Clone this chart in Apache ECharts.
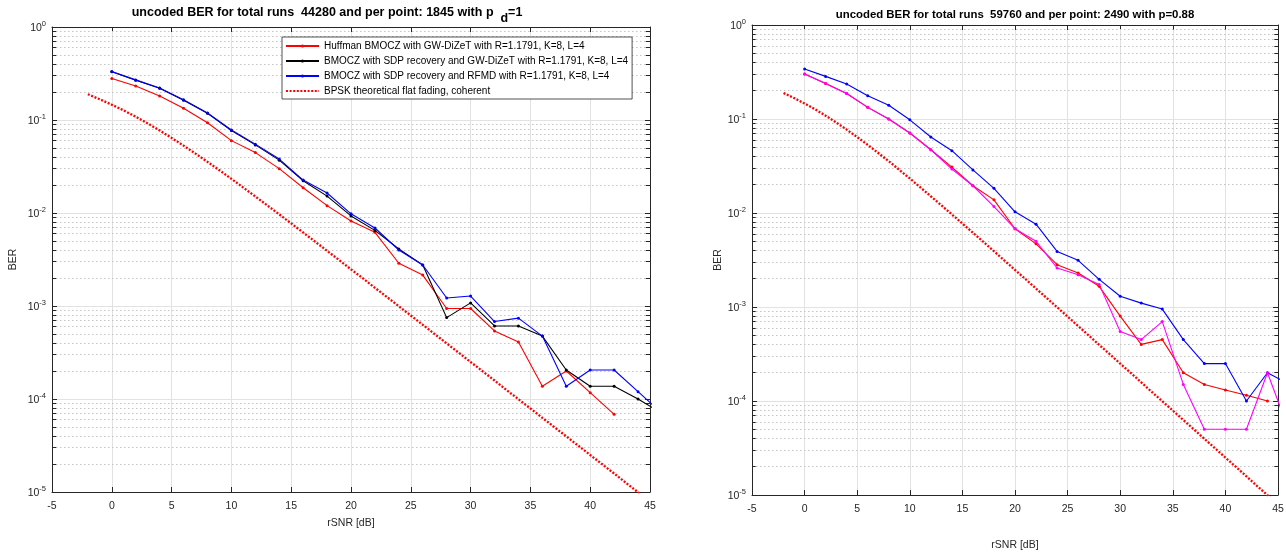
<!DOCTYPE html>
<html><head><meta charset="utf-8">
<script src="https://cdn.jsdelivr.net/npm/echarts@6/dist/echarts.min.js"></script>
<style>html,body{margin:0;padding:0;background:#fff}#c{width:1286px;height:552px}</style>
</head><body><div id="c"></div>
<script>
// ---- data ----
const snr = [0,2,4,6,8,10,12,14,16,18,20,22,24,26,28,30,32,34,36,38,40,42,44,46];
// left panel (p_d = 1)
const leftHuffman = [0.28,0.232,0.181,0.134,0.0935,0.06,0.0446,0.030,0.0187,0.012,0.0082,0.0062,0.00288,0.00215,0.00094,0.00094,0.00054,0.00041,0.000137,0.0002,0.000117,0.0000684,null,null];
const leftSdpGw   = [0.33,0.268,0.22,0.163,0.118,0.077,0.054,0.037,0.0222,0.0152,0.0093,0.0065,0.0041,0.00276,0.00075,0.00108,0.00061,0.00061,0.000475,0.000205,0.000137,0.000137,0.0001,0.00007];
const leftSdpRfmd = [0.333,0.27,0.221,0.165,0.119,0.078,0.055,0.038,0.0226,0.0164,0.0098,0.0069,0.0040,0.00276,0.00122,0.00128,0.00068,0.00074,0.000475,0.000137,0.000205,0.000205,0.00012,0.00007];
// right panel (p = 0.88)
const rightRed     = [0.301,0.238,0.187,0.133,0.100,0.071,0.0471,0.0308,0.0195,0.0138,0.0068,0.0047,0.00282,0.0023,0.00166,0.0008,0.0004,0.00045,0.0002,0.00015,0.000131,0.000115,0.0001,null];
const rightMagenta = [0.301,0.238,0.187,0.133,0.100,0.071,0.0471,0.0294,0.0195,0.0117,0.0068,0.0050,0.0026,0.0022,0.00174,0.00055,0.00045,0.0007,0.00015,0.00005,0.00005,0.00005,0.0002,0.00005];
const rightBlue    = [0.340,0.284,0.236,0.177,0.140,0.098,0.0644,0.046,0.0287,0.0183,0.0103,0.0076,0.0039,0.00314,0.00197,0.0013,0.0011,0.00095,0.00045,0.00025,0.00025,0.0001,0.0002,0.000152];
// BPSK theoretical flat fading, coherent
const bpskSnr = [-2,-1,0,1,2,3,4,5,6,7,8,9,10,11,12,13,14,15,16,17,18,19,20,21,22,23,24,25,26,27,28,29,30,31,32,33,34,35,36,37,38,39,40,41,42,43,44,45];
const bpskBer = [0.189,0.167,0.146,0.1267,0.1085,0.0919,0.0771,0.0642,0.053,0.0435,0.0355,0.0288,0.0233,0.01875,0.01505,0.01208,0.00966,0.00772,0.00617,0.00492,0.00392,0.00312,0.00248,0.00198,0.00157,0.00125,0.000994,0.00079,0.000628,0.000499,0.000396,0.000315,0.00025,0.000199,0.000158,0.000125,0.0000995,0.0000791,0.0000628,0.0000499,0.0000396,0.0000315,0.000025,0.0000199,0.0000158,0.0000125,0.00000995,0.0000079];
const legendNames = [
  'Huffman BMOCZ with GW-DiZeT with R=1.1791, K=8, L=4',
  'BMOCZ with SDP recovery and GW-DiZeT with R=1.1791, K=8, L=4',
  'BMOCZ with SDP recovery and RFMD with R=1.1791, K=8, L=4',
  'BPSK theoretical flat fading, coherent'
];
const titleLeft = '{n|uncoded BER for total runs  44280 and per point: 1845 with p  }{sub|d}{n|=1}';
const titleRight = 'uncoded BER for total runs  59760 and per point: 2490 with p=0.88';
const xMin = -5, xMax = 45, xStep = 5;
const yMin = 1e-5, yMax = 1;
const minorExps = [-5,-4,-3,-2,-1];
const minorMults = [2,3,4,5,6,7,8,9];

// ---- build ----
const FONT = '"Liberation Sans", Arial, Helvetica, sans-serif';
const AX = '#262626';
function pairs(xs, ys){ const o=[]; xs.forEach((x,i)=>{ if(ys[i]!=null) o.push([x,ys[i]]); }); return o; }
const minorVals = [];
minorExps.forEach(e=>minorMults.forEach(k=>minorVals.push(Number(k+'e'+e))));
const tickLen = (xMax - xMin) * 0.007;

function xAx(gi, pos, main, name, nameGap, margin){
  return {type:'value', gridIndex:gi, position:pos, min:xMin, max:xMax, interval:xStep,
    axisLine:{show:true, onZero:false, lineStyle:{color:AX, width:1}},
    axisTick:{show:true, inside:true, length:5, lineStyle:{color:AX}},
    axisLabel:{show:main, color:AX, fontSize:10.5, fontFamily:FONT, margin:margin||9},
    splitLine:{show:main, lineStyle:{color:'#e2e2e2', width:1}},
    name: main?name:'', nameLocation:'middle', nameGap:nameGap,
    nameTextStyle:{color:AX, fontSize:10.5, fontFamily:FONT}};
}
function yAx(gi, pos, main, nameGap){
  return {type:'log', logBase:10, gridIndex:gi, position:pos, min:yMin, max:yMax,
    axisLine:{show:true, onZero:false, lineStyle:{color:AX, width:1}},
    axisTick:{show:true, inside:true, length:5, lineStyle:{color:AX}},
    minorTick:{show:false},
    axisLabel:{show:main, color:AX, fontFamily:FONT, margin:6,
      formatter: v => '{b|10}{s|' + Math.round(Math.log10(v)) + '}',
      rich:{b:{fontSize:10.5, fontFamily:FONT, color:AX, verticalAlign:'bottom'},
            s:{fontSize:7.5, fontFamily:FONT, color:AX, verticalAlign:'bottom', padding:[0,0,6,0]}}},
    splitLine:{show:main, lineStyle:{color:'#e2e2e2', width:1}},
    name: main?'BER':'', nameLocation:'middle', nameGap:nameGap, nameRotate:90,
    nameTextStyle:{color:AX, fontSize:10.5, fontFamily:FONT}};
}
function dataSeries(name, xi, yi, ys, color){
  return {type:'line', name, xAxisIndex:xi, yAxisIndex:yi, data:pairs(snr, ys),
    symbol:'circle', symbolSize:3, showSymbol:true, clip:true,
    lineStyle:{color, width:1.1}, itemStyle:{color}, z:4, animation:false, silent:true};
}
function bpskSeries(name, xi, yi){
  return {type:'line', name, xAxisIndex:xi, yAxisIndex:yi, data:pairs(bpskSnr, bpskBer),
    symbol:'none', showSymbol:false, clip:true,
    lineStyle:{color:'#ff0000', width:2.3, type:[2,1.6]}, itemStyle:{color:'#ff0000'}, z:5, animation:false, silent:true};
}
function minorGrid(xi, yi){
  return {type:'lines', coordinateSystem:'cartesian2d', xAxisIndex:xi, yAxisIndex:yi, silent:true, z:1, animation:false,
    lineStyle:{color:'#c4c4c4', width:1, type:[1.5,2.5], opacity:1, curveness:0},
    data: minorVals.map(v=>({coords:[[xMin,v],[xMax,v]]}))};
}
function minorTicks(xi, yi){
  const d = [];
  minorVals.forEach(v=>{ d.push({coords:[[xMin,v],[xMin+tickLen,v]]}); d.push({coords:[[xMax,v],[xMax-tickLen,v]]}); });
  return {type:'lines', coordinateSystem:'cartesian2d', xAxisIndex:xi, yAxisIndex:yi, silent:true, z:2, animation:false,
    lineStyle:{color:AX, width:1, opacity:1, curveness:0}, data:d};
}

const option = {
  backgroundColor:'#ffffff',
  animation:false,
  title:[
    {text:titleLeft, left:322, top:1, textAlign:'center',
     textStyle:{fontSize:12.5, fontWeight:'bold', fontFamily:FONT, color:'#000',
       rich:{n:{fontSize:12.5, fontWeight:'bold', fontFamily:FONT, color:'#000', verticalAlign:'top', lineHeight:14},
             sub:{fontSize:12.5, fontWeight:'bold', fontFamily:FONT, color:'#000', verticalAlign:'top', lineHeight:14, padding:[6,0,0,0]}}}},
    {text:titleRight, left:1010, top:4, textAlign:'center',
     textStyle:{fontSize:11.4, fontWeight:'bold', fontFamily:FONT, color:'#000'}}
  ],
  legend:{data:[legendNames[0],legendNames[1],legendNames[2],{name:legendNames[3], itemStyle:{opacity:0}}],
    orient:'vertical', left:282, top:37, itemWidth:33, itemHeight:4, itemGap:3,
    padding:[3,4,2,3], backgroundColor:'#fff', borderColor:AX, borderWidth:0.8, borderRadius:0,
    textStyle:{fontSize:10, fontFamily:FONT, color:'#000', lineHeight:12}, selectedMode:false},
  grid:[
    {left:52, top:27, width:598, height:465, containLabel:false, outerBoundsMode:'none'},
    {left:752, top:25, width:526, height:470, containLabel:false, outerBoundsMode:'none'}
  ],
  xAxis:[ xAx(0,'bottom',true,'rSNR [dB]',26,9), xAx(0,'top',false,'',0),
          xAx(1,'bottom',true,'rSNR [dB]',45,9), xAx(1,'top',false,'',0) ],
  yAxis:[ yAx(0,'left',true,33), yAx(0,'right',false,0),
          yAx(1,'left',true,26), yAx(1,'right',false,0) ],
  series:[
    minorGrid(0,0), minorGrid(2,2), minorTicks(0,0), minorTicks(2,2),
    dataSeries(legendNames[0],0,0,leftHuffman,'#ff0000'),
    dataSeries(legendNames[1],0,0,leftSdpGw,'#000000'),
    dataSeries(legendNames[2],0,0,leftSdpRfmd,'#0000ff'),
    bpskSeries(legendNames[3],0,0),
    dataSeries('right red',2,2,rightRed,'#ff0000'),
    dataSeries('right blue',2,2,rightBlue,'#0000ff'),
    dataSeries('right magenta',2,2,rightMagenta,'#ff00ff'),
    bpskSeries('right bpsk',2,2)
  ]
};
echarts.init(document.getElementById('c'), null, {renderer:'canvas'}).setOption(option);
</script></body></html>
